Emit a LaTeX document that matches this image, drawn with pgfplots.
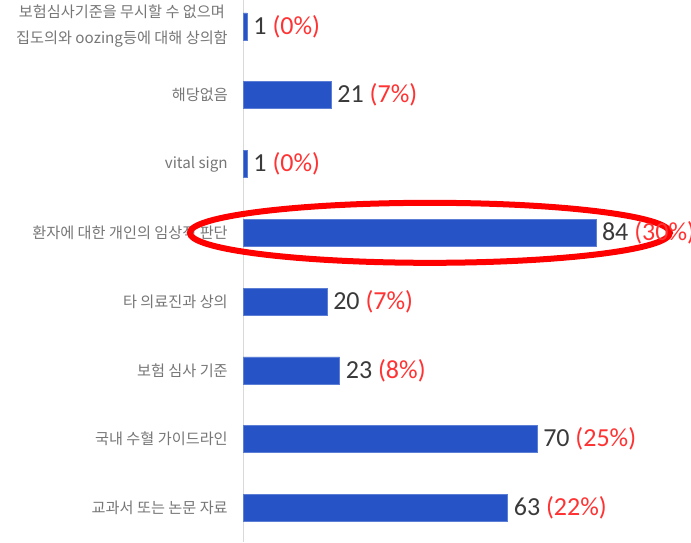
\documentclass[border=0pt]{standalone}
\usepackage{pgfplots}
\pgfplotsset{compat=1.18}
\usepackage{fontspec}
\setmainfont{Carlito}
\newfontfamily\kr{Noto Sans CJK KR}
\definecolor{barblue}{HTML}{2653C6}
\definecolor{pctred}{HTML}{FF3333}
\definecolor{numgray}{HTML}{3A3A3A}
\definecolor{labgray}{HTML}{767676}
\definecolor{axgray}{HTML}{D9D9D9}
\begin{document}
\begin{tikzpicture}
\path[use as bounding box] (0,0) rectangle (518.25pt,406.5pt);
\begin{axis}[
 at={(182.25pt,0pt)}, anchor=south west, scale only axis,
 width=336pt, height=406.5pt,
 xmin=0, xmax=106.67, ymin=-0.495, ymax=7.385,
 xbar, bar width=20.25pt,
 axis x line=none, axis y line*=left,
 y axis line style={axgray, line width=0.75pt},
 ytick={0,...,7}, major tick length=0,
 yticklabels={교과서 또는 논문 자료, 국내 수혈 가이드라인, 보험 심사 기준, 타 의료진과 상의, 환자에 대한 개인의 임상적 판단, vital sign, 해당없음, {보험심사기준을 무시할 수 없으며\\[4.5pt]집도의와 oozing등에 대해 상의함}},
 yticklabel style={font=\kr\fontsize{11.4}{15}\selectfont, text=labgray, align=center, anchor=east, inner sep=0pt, xshift=-11.25pt},
 nodes near coords, point meta=explicit symbolic,
 every node near coord/.append style={font=\fontsize{19.5}{22}\selectfont, text=numgray, anchor=west, inner sep=0pt, xshift=4.5pt},
 clip=false,
]
\addplot[fill=barblue, draw=barblue!75!white, line width=0.4pt] coordinates {
 (63,0) [63 \textcolor{pctred}{(22\%)}]
 (70,1) [70 \textcolor{pctred}{(25\%)}]
 (23,2) [23 \textcolor{pctred}{(8\%)}]
 (20,3) [20 \textcolor{pctred}{(7\%)}]
 (84,4) [84 \textcolor{pctred}{(30\%)}]
 (1,5) [1 \textcolor{pctred}{(0\%)}]
 (21,6) [21 \textcolor{pctred}{(7\%)}]
 (1,7) [1 \textcolor{pctred}{(0\%)}]
};
\draw[red, line width=4.5pt] (axis cs:44.5,4) ellipse [x radius=180pt, y radius=22.5pt];
\end{axis}
\end{tikzpicture}
\end{document}
